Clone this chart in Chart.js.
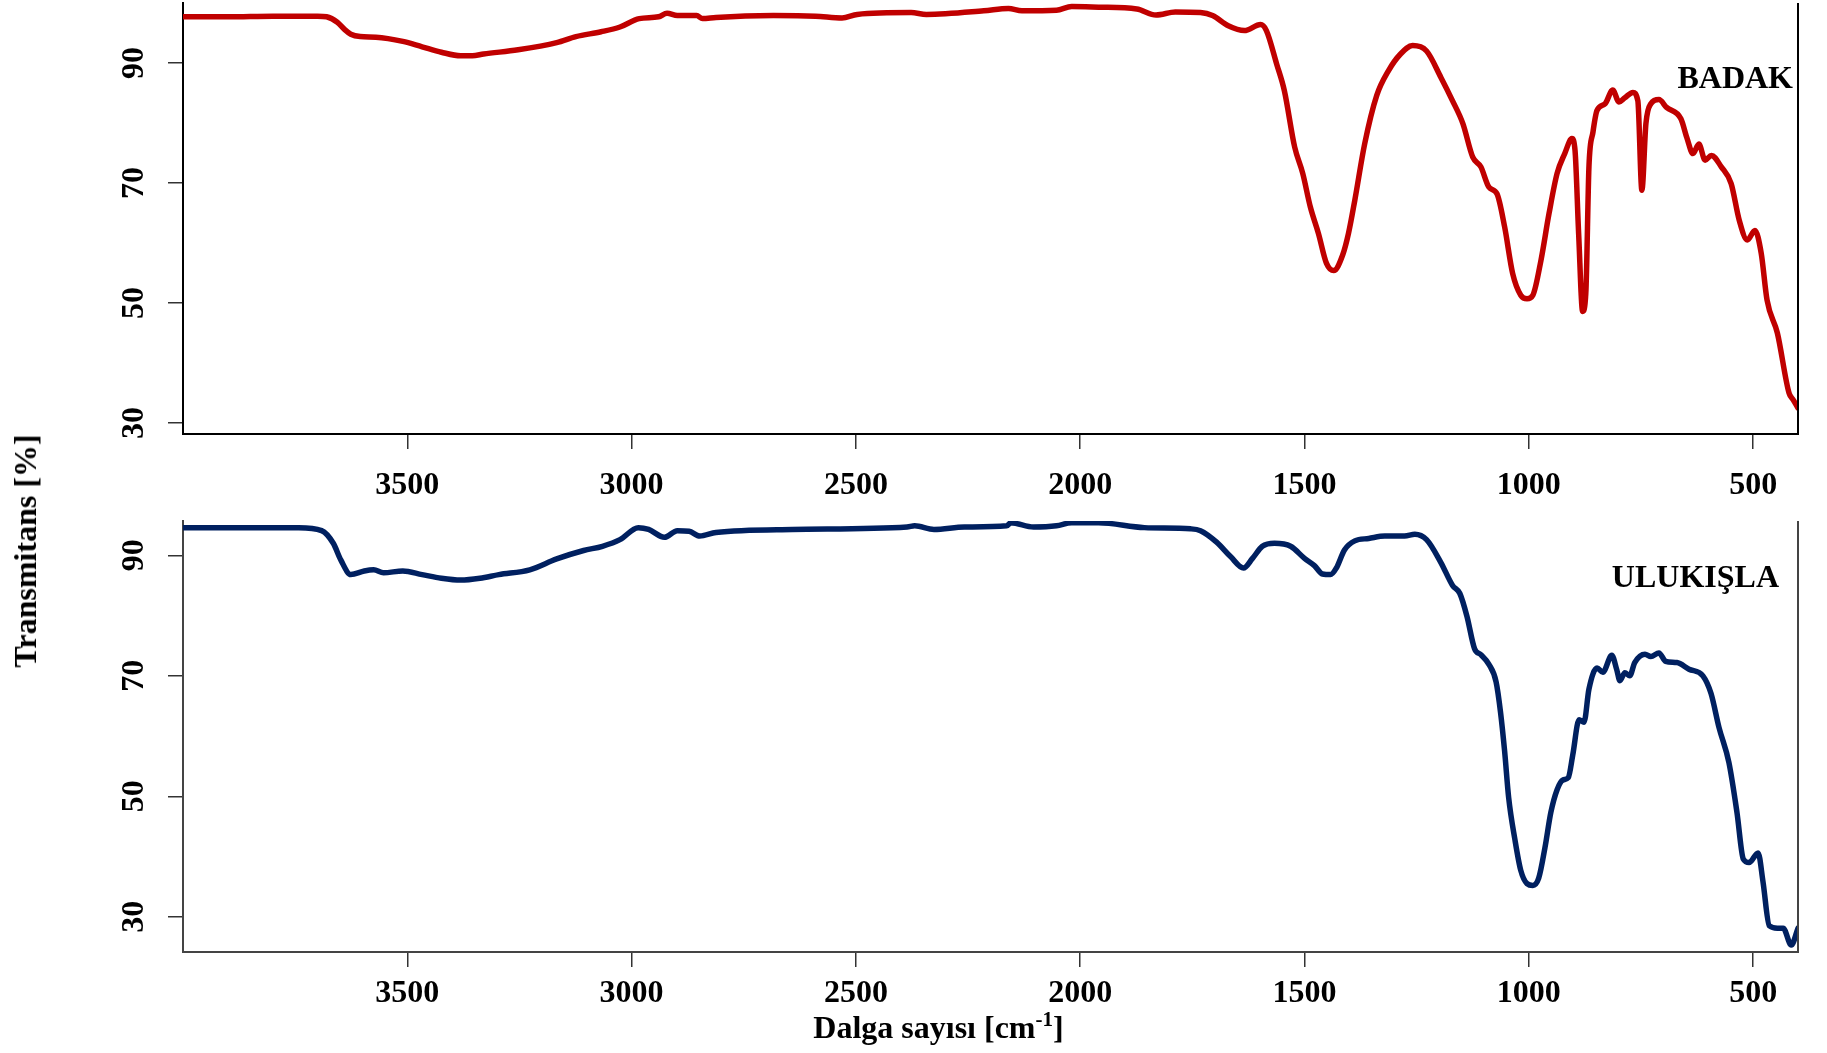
<!DOCTYPE html>
<html>
<head>
<meta charset="utf-8">
<script src="https://cdn.jsdelivr.net/npm/chart.js@4.4.1/dist/chart.umd.min.js"></script>
<style>
html,body{margin:0;padding:0;background:#fff;}
body{width:1827px;height:1053px;position:relative;overflow:hidden;font-family:"Liberation Serif","Times New Roman",serif;}
#wrapTop{position:absolute;left:0;top:0;width:1827px;height:520px;}
#wrapBot{position:absolute;left:0;top:500px;width:1827px;height:553px;}
.lbl{position:absolute;font-weight:bold;font-size:32px;line-height:32px;white-space:nowrap;color:#000;}
</style>
</head>
<body>
<div id="wrapTop"><canvas id="cTop"></canvas></div>
<div id="wrapBot"><canvas id="cBot"></canvas></div>
<div class="lbl" style="left:25px;top:550.5px;transform:translate(-50%,-50%) rotate(-90deg);">Transmitans [%]</div>
<div class="lbl" style="left:938.5px;top:1029px;transform:translate(-50%,-50%);">Dalga sayısı [cm<span style="font-size:21px;position:relative;top:-12px;">-1</span>]</div>
<div class="lbl" style="right:34px;top:61px;">BADAK</div>
<div class="lbl" style="right:48px;top:560px;">ULUKIŞLA</div>
<script>
// ---- Data ----
const xTickValues = [3500, 3000, 2500, 2000, 1500, 1000, 500];
const xTickLabels = ["3500", "3000", "2500", "2000", "1500", "1000", "500"];
const yTickValues = [30, 50, 70, 90];
const yTickLabels = ["30", "50", "70", "90"];

const badakWn = [4000, 3900, 3800, 3750, 3700, 3680, 3656, 3640, 3626, 3605, 3570, 3510, 3467, 3424, 3381, 3355, 3330, 3253, 3167, 3124, 3068, 3026, 2983, 2940, 2921, 2898, 2855, 2842, 2812, 2684, 2590, 2531, 2497, 2377, 2343, 2215, 2160, 2130, 2053, 2019, 1959, 1874, 1831, 1788, 1732, 1705, 1670, 1634, 1598, 1585, 1562, 1545, 1522, 1504, 1487, 1469, 1451, 1435, 1415, 1402, 1388, 1366, 1339, 1313, 1286, 1259, 1228, 1196, 1170, 1147, 1125, 1107, 1089, 1071, 1054, 1036, 1018, 1004, 991, 973, 955, 937, 920, 904, 897, 889, 880, 873, 866, 857, 848, 830, 813, 799, 786, 768, 757, 748, 739, 728, 710, 693, 661, 648, 634, 621, 607, 593, 571, 549, 531, 513, 496, 482, 469, 446, 420, 411, 400];
const badakT = [97.7, 97.7, 97.8, 97.8, 97.8, 97.7, 96.8, 95.6, 94.8, 94.4, 94.3, 93.6, 92.7, 91.8, 91.2, 91.2, 91.5, 92.2, 93.4, 94.4, 95.2, 96.0, 97.4, 97.7, 98.3, 97.9, 97.9, 97.4, 97.6, 97.9, 97.8, 97.5, 98.1, 98.4, 98.1, 98.7, 99.1, 98.7, 98.8, 99.4, 99.3, 99.0, 98.0, 98.5, 98.4, 97.9, 96.2, 95.4, 96.4, 95.4, 89.8, 85.4, 76.0, 71.6, 66.0, 61.6, 56.6, 55.4, 58.0, 61.6, 67.1, 76.5, 84.6, 88.7, 91.5, 92.9, 92.0, 87.6, 83.7, 79.9, 74.3, 72.7, 69.3, 68.2, 62.7, 54.9, 51.3, 50.7, 51.3, 57.1, 64.9, 71.6, 74.9, 77.4, 75.4, 61.6, 48.6, 51.6, 72.7, 78.5, 82.1, 83.2, 85.5, 83.5, 84.2, 85.1, 83.7, 68.8, 79.9, 83.2, 83.9, 82.6, 80.7, 77.6, 74.9, 76.5, 73.8, 74.6, 72.7, 69.9, 63.8, 60.5, 62.1, 58.3, 50.5, 45.0, 35.0, 33.9, 32.5];

const ulukislaWn = [4000, 3900, 3800, 3742, 3691, 3665, 3648, 3626, 3596, 3575, 3553, 3510, 3467, 3424, 3381, 3338, 3296, 3227, 3167, 3107, 3065, 3026, 2985, 2962, 2927, 2898, 2872, 2848, 2812, 2642, 2386, 2369, 2326, 2258, 2164, 2155, 2104, 2053, 2019, 1959, 1857, 1754, 1732, 1696, 1665, 1636, 1616, 1594, 1567, 1531, 1500, 1478, 1460, 1442, 1429, 1411, 1388, 1357, 1321, 1277, 1254, 1228, 1196, 1170, 1154, 1138, 1121, 1107, 1089, 1073, 1063, 1054, 1045, 1031, 1018, 1004, 991, 978, 964, 951, 937, 924, 912, 902, 888, 877, 866, 848, 835, 815, 804, 797, 786, 775, 764, 741, 728, 710, 695, 670, 643, 612, 594, 576, 554, 536, 522, 509, 489, 478, 464, 446, 433, 415, 400];
const ulukislaT = [94.6, 94.6, 94.6, 94.6, 94.1, 92.0, 89.2, 86.8, 87.4, 87.6, 87.1, 87.4, 86.8, 86.2, 85.9, 86.2, 86.8, 87.6, 89.4, 90.8, 91.5, 92.6, 94.6, 94.3, 93.0, 94.1, 94.0, 93.2, 93.8, 94.3, 94.7, 94.9, 94.3, 94.7, 94.9, 95.4, 94.7, 94.9, 95.4, 95.4, 94.6, 94.4, 94.1, 92.2, 89.8, 87.9, 89.5, 91.5, 92.0, 91.5, 89.5, 88.3, 86.9, 86.8, 87.9, 90.9, 92.4, 92.8, 93.2, 93.2, 93.5, 92.6, 88.8, 85.0, 83.7, 79.9, 74.5, 73.5, 71.9, 69.0, 63.9, 57.5, 49.8, 42.8, 37.7, 35.5, 35.2, 36.4, 41.5, 47.3, 51.1, 52.7, 53.1, 56.9, 62.7, 62.3, 67.8, 71.3, 70.6, 73.4, 71.0, 69.2, 70.5, 70.0, 72.2, 73.6, 73.2, 73.8, 72.4, 72.2, 71.1, 70.0, 67.1, 61.4, 55.6, 47.3, 39.6, 39.0, 40.6, 35.8, 28.5, 28.1, 28.1, 25.3, 28.1];

// ---- Helpers ----
const FONT = '"Liberation Serif", "Times New Roman", serif';

const rightBorder = {
  id: 'rightBorder',
  afterDraw(chart, args, o) {
    const {ctx, chartArea: a} = chart;
    ctx.save();
    ctx.strokeStyle = o.color;
    ctx.lineWidth = 2;
    ctx.beginPath();
    ctx.moveTo(a.right, a.top);
    ctx.lineTo(a.right, a.bottom + 1);
    ctx.stroke();
    ctx.restore();
  }
};

const yLabels = {
  id: 'yLabels',
  afterDraw(chart, args, o) {
    const {ctx} = chart;
    const s = chart.scales.y;
    ctx.save();
    ctx.font = 'bold 32px ' + FONT;
    ctx.fillStyle = '#000';
    ctx.textAlign = 'center';
    ctx.textBaseline = 'middle';
    yTickValues.forEach((v, i) => {
      const py = s.getPixelForValue(v);
      ctx.save();
      ctx.translate(o.x, py);
      ctx.rotate(-Math.PI / 2);
      ctx.fillText(yTickLabels[i], 0, 0);
      ctx.restore();
    });
    ctx.restore();
  }
};

function makeChart(id, wn, tv, color, yMin, yMax, o) {
  const pts = wn.map((w, i) => ({x: w, y: tv[i]}));
  return new Chart(document.getElementById(id), {
    type: 'line',
    data: {
      datasets: [{
        data: pts,
        borderColor: color,
        borderWidth: 5.5,
        pointRadius: 0,
        fill: false,
        cubicInterpolationMode: 'monotone',
        borderJoinStyle: 'round',
        borderCapStyle: 'round'
      }]
    },
    options: {
      responsive: true,
      maintainAspectRatio: false,
      animation: false,
      devicePixelRatio: 1,
      parsing: false,
      layout: {padding: {left: 0, right: 29, top: o.top, bottom: 0}},
      plugins: {
        legend: {display: false},
        tooltip: {enabled: false},
        rightBorder: {color: o.axisColor},
        yLabels: {x: 134.5}
      },
      scales: {
        x: {
          type: 'linear',
          reverse: true,
          min: 400,
          max: 4000,
          afterBuildTicks: s => { s.ticks = xTickValues.map(v => ({value: v})); },
          afterFit: s => { s.height = o.xh; },
          grid: {display: true, drawOnChartArea: false, drawTicks: true, tickLength: 15, color: '#333', lineWidth: 1.5},
          border: {display: true, color: o.axisColor, width: 2},
          ticks: {
            autoSkip: false, maxRotation: 0, minRotation: 0,
            padding: o.xpad,
            color: '#000',
            font: {family: FONT, size: 32, weight: 'bold'},
            callback: (v) => { const i = xTickValues.indexOf(v); return i >= 0 ? xTickLabels[i] : ''; }
          }
        },
        y: {
          type: 'linear',
          min: yMin,
          max: yMax,
          afterBuildTicks: s => { s.ticks = yTickValues.map(v => ({value: v})); },
          afterFit: s => { s.width = 183; },
          grid: {display: true, drawOnChartArea: false, drawTicks: true, tickLength: 15, color: '#333', lineWidth: 1.5},
          border: {display: true, color: o.axisColor, width: 2},
          ticks: {display: false}
        }
      }
    },
    plugins: [rightBorder, yLabels]
  });
}

makeChart('cTop', badakWn, badakT, '#C00000', 28.17, 100, {top: 3, xh: 86, xpad: 17.5, axisColor: '#000'});
makeChart('cBot', ulukislaWn, ulukislaT, '#002060', 24.15, 95.7, {top: 21, xh: 101, xpad: 8, axisColor: '#444'});
</script>
</body>
</html>
